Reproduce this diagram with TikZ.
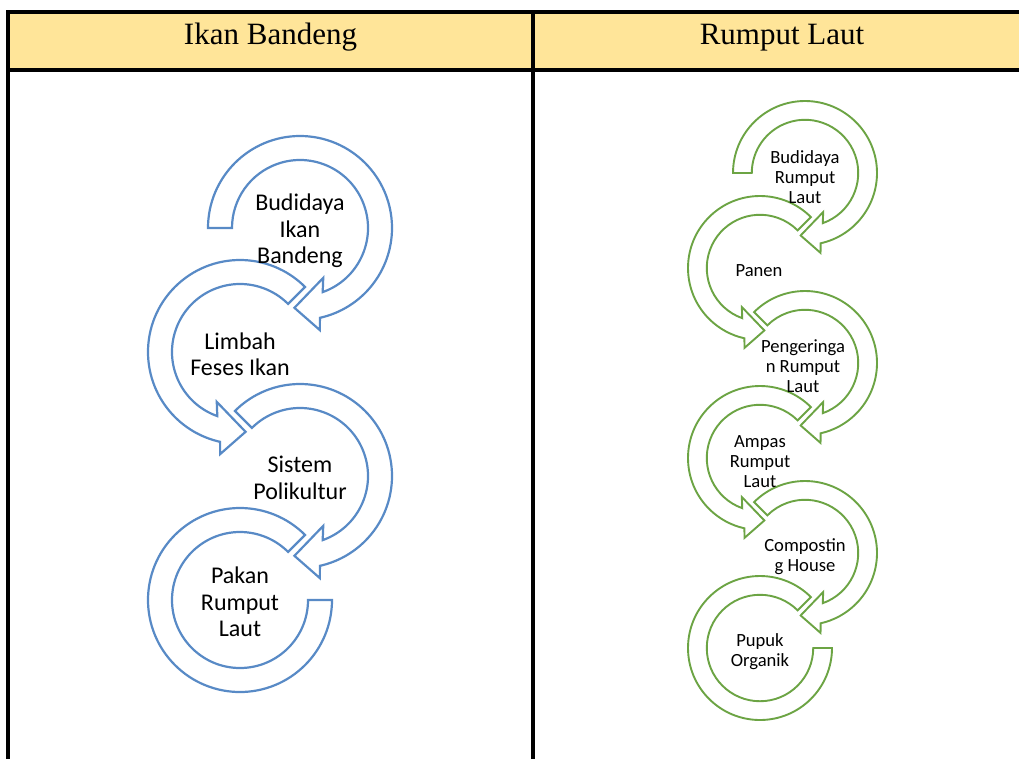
\documentclass[tikz,border=0pt]{standalone}
\usepackage{fontspec}
\setmainfont{Liberation Serif}
\newfontfamily\carlito{Carlito}

\definecolor{judulkuning}{RGB}{255,229,153}
\definecolor{birupanah}{RGB}{88,138,198}
\definecolor{hijaupanah}{RGB}{108,164,68}

%panah melingkar searah jarum jam: pusat, skala, sudut awal, gaya
\newcommand{\panahkanan}[4]{%
  \draw[#4, fill=white, shift={#1}, scale=#2] (#3:68) -- (#3:92)
    arc[start angle=#3, end angle=-77.5, radius=92] -- (-79:104) -- (-94:80)
    -- (-65:55) -- (-70.5:68) arc[start angle=-70.5, end angle=#3, radius=68] -- cycle;}
%panah melingkar berlawanan arah jarum jam: pusat, skala, gaya
\newcommand{\panahkiri}[3]{%
  \draw[#3, fill=white, shift={#1}, scale=#2] (45:68) -- (45:92)
    arc[start angle=45, end angle=257.5, radius=92] -- (259:104) -- (274:80)
    -- (245:55) -- (250.5:68) arc[start angle=250.5, end angle=45, radius=68] -- cycle;}
%lingkaran terakhir tanpa ujung panah
\newcommand{\lingkaranakhir}[3]{%
  \draw[#3, fill=white, shift={#1}, scale=#2] (45:68) -- (45:92)
    arc[start angle=45, end angle=360, radius=92] -- (0:68)
    arc[start angle=360, end angle=45, radius=68] -- cycle;}

\tikzset{
  garisbiru/.style={draw=birupanah, line width=2.2pt},
  garishijau/.style={draw=hijaupanah, line width=1.9pt},
  labelbiru/.style={font=\carlito\fontsize{24}{26.5}\selectfont, align=center, inner sep=0pt},
  labelhijau/.style={font=\carlito\fontsize{18.6}{20}\selectfont, align=center, inner sep=0pt},
  judul/.style={font=\fontsize{31}{36}\selectfont, anchor=base, inner sep=0pt}
}

\begin{document}
\begin{tikzpicture}[x=1pt, y=1pt]
    \useasboundingbox (0,0) rectangle (1019,-758);
    \clip (0,0) rectangle (1019,-758);

    %tabel dan baris judul
    \fill[judulkuning] (8,-12) rectangle (1040,-70);
    \draw[line width=4pt] (8,-762) -- (8,-12) -- (1040,-12);
    \draw[line width=4pt] (8,-70) -- (1040,-70);
    \draw[line width=4pt] (533,-12) -- (533,-762);
    \node[judul] (kolomikan) at (270.5,-44.5) {Ikan Bandeng};
    \node[judul] (kolomrumput) at (782,-44.5) {Rumput Laut};

    %lingkaran biru untuk ikan bandeng
    \panahkanan{(300,-228)}{1}{180}{garisbiru}
    \panahkiri{(240,-352)}{1}{garisbiru}
    \panahkanan{(300,-476)}{1}{135}{garisbiru}
    \lingkaranakhir{(240,-600)}{1}{garisbiru}

    %lingkaran hijau untuk rumput laut
    \panahkanan{(805,-173)}{0.7826}{180}{garishijau}
    \panahkiri{(760,-268)}{0.7826}{garishijau}
    \panahkanan{(805,-363)}{0.7826}{135}{garishijau}
    \panahkiri{(760,-458)}{0.7826}{garishijau}
    \panahkanan{(805,-553)}{0.7826}{135}{garishijau}
    \lingkaranakhir{(760,-648)}{0.7826}{garishijau}

    %tulisan di dalam lingkaran
    \node[labelbiru] (budidayaikan) at (300,-231) {Budidaya\\Ikan\\Bandeng};
    \node[labelbiru] (limbah) at (240,-354) {Limbah\\Feses Ikan};
    \node[labelbiru] (sistem) at (300,-478) {Sistem\\Polikultur};
    \node[labelbiru] (pakan) at (240,-602) {Pakan\\Rumput\\Laut};

    \node[labelhijau] (budidayarumput) at (805,-177) {Budidaya\\Rumput\\Laut};
    \node[labelhijau] (panen) at (759,-271) {Panen};
    \node[labelhijau] (pengeringan) at (803,-366) {Pengeringa\\n Rumput\\Laut};
    \node[labelhijau] (ampas) at (760,-462) {Ampas\\Rumput\\Laut};
    \node[labelhijau] (composting) at (805,-557) {Compostin\\g House};
    \node[labelhijau] (pupuk) at (760,-652) {Pupuk\\Organik};
\end{tikzpicture}
\end{document}
